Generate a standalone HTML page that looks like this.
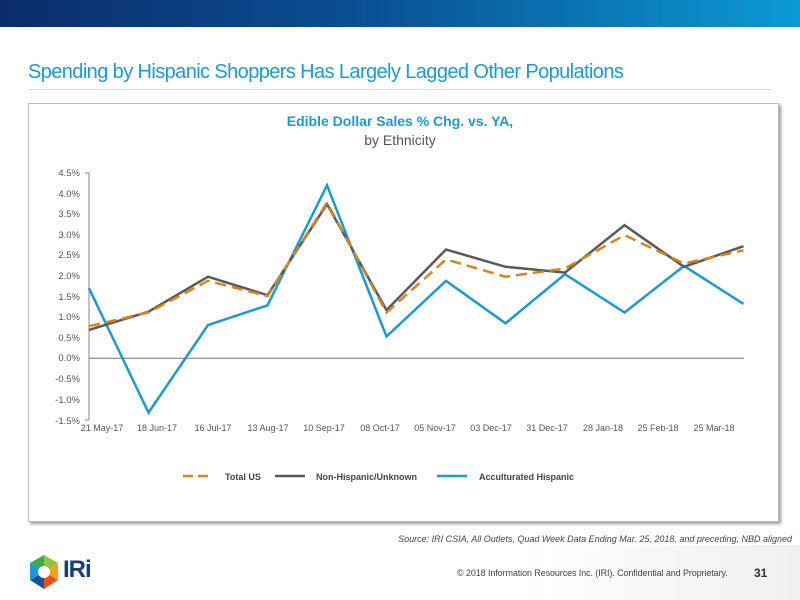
<!DOCTYPE html>
<html><head><meta charset="utf-8"><style>
body{margin:0;width:800px;height:600px;position:relative;background:#fff;font-family:"Liberation Sans",sans-serif;overflow:hidden}
.hdr{position:absolute;left:0;top:0;width:800px;height:27px;background:linear-gradient(90deg,#0b2c6b 0%,#0a4f93 45%,#0a9ad4 100%)}
.title{position:absolute;left:28px;top:61px;font-size:20px;color:#1a9ad6;letter-spacing:-0.6px}
.rule{position:absolute;left:28px;top:89px;width:744px;height:1px;background:#ddd}
.box{position:absolute;left:28px;top:103px;width:749px;height:417px;border:1px solid #bbb;box-shadow:2px 2px 3px #999;background:#fff}
.src{position:absolute;right:8px;top:534px;font-size:9px;font-style:italic;color:#444}
.foot{position:absolute;left:0;top:545px;width:800px;height:55px;background:linear-gradient(90deg,#fff 65%,#f0f0f0 100%)}
.copy{position:absolute;left:457px;top:568px;font-size:9px;color:#444;letter-spacing:-0.1px}
.pg{position:absolute;left:754px;top:566px;font-size:12px;font-weight:bold;color:#333}
.iri{position:absolute;left:63px;top:556px;font-size:24px;font-weight:bold;color:#163f7c;letter-spacing:-1px}
</style></head><body>
<div class="hdr"></div>
<div class="title">Spending by Hispanic Shoppers Has Largely Lagged Other Populations</div>
<div class="rule"></div>
<div class="box"></div>
<svg style="position:absolute;left:0;top:0" width="800" height="600" font-family="Liberation Sans, sans-serif">
<text x="400" y="126" text-anchor="middle" font-size="14" font-weight="bold" fill="#1a9ad6">Edible Dollar Sales % Chg. vs. YA,</text>
<text x="400" y="145" text-anchor="middle" font-size="14" fill="#555">by Ethnicity</text>
<g font-size="9.5" fill="#555" text-anchor="end">
<text x="80" y="176">4.5%</text><text x="80" y="197">4.0%</text><text x="80" y="217">3.5%</text><text x="80" y="238">3.0%</text><text x="80" y="258">2.5%</text><text x="80" y="279">2.0%</text><text x="80" y="300">1.5%</text><text x="80" y="320">1.0%</text><text x="80" y="341">0.5%</text><text x="80" y="361">0.0%</text><text x="80" y="382">-0.5%</text><text x="80" y="403">-1.0%</text><text x="80" y="424">-1.5%</text>
</g>
<line x1="89" y1="173" x2="89" y2="420" stroke="#888"/>
<g stroke="#888"><line x1="85" y1="173" x2="89" y2="173"/><line x1="85" y1="420" x2="89" y2="420"/></g>
<line x1="89" y1="358.3" x2="744" y2="358.3" stroke="#777"/>
<g font-size="9" fill="#555" text-anchor="middle">
<text x="102" y="431">21 May-17</text><text x="157" y="431">18 Jun-17</text><text x="213" y="431">16 Jul-17</text><text x="268" y="431">13 Aug-17</text><text x="324" y="431">10 Sep-17</text><text x="380" y="431">08 Oct-17</text><text x="435" y="431">05 Nov-17</text><text x="491" y="431">03 Dec-17</text><text x="547" y="431">31 Dec-17</text><text x="603" y="431">28 Jan-18</text><text x="658" y="431">25 Feb-18</text><text x="714" y="431">25 Mar-18</text>
</g>
<polyline fill="none" stroke="#1a9ad6" stroke-width="2.5" points="89,288.3 148.5,412.6 208,325.1 267.5,305.3 327,185.3 386.5,336.5 446,280.8 505.5,323.3 565,274.2 624.5,312.5 684,265.9 743.5,303.9"/>
<polyline fill="none" stroke="#595959" stroke-width="2.5" points="89,329.9 148.5,311.7 208,276.7 267.5,295.2 327,204.2 386.5,310.1 446,249.5 505.5,266.8 565,272.6 624.5,225.2 684,266.8 743.5,246.2"/>
<polyline fill="none" stroke="#d9831f" stroke-width="2.5" stroke-dasharray="11,6" points="89,326.2 148.5,312.5 208,280.8 267.5,296.1 327,202.6 386.5,312.5 446,259.4 505.5,276.7 565,268.5 624.5,235.1 684,263.5 743.5,250.3"/>
<line x1="183" y1="476" x2="213" y2="476" stroke="#d9831f" stroke-width="2.5" stroke-dasharray="10,5"/>
<line x1="275" y1="476" x2="305" y2="476" stroke="#595959" stroke-width="2.5"/>
<line x1="437" y1="476" x2="467" y2="476" stroke="#1a9ad6" stroke-width="2.5"/>
<g font-size="9" font-weight="bold" fill="#444">
<text x="225" y="480">Total US</text><text x="316" y="480">Non-Hispanic/Unknown</text><text x="479" y="480">Acculturated Hispanic</text>
</g>
</svg>
<div class="src">Source: IRI CSIA, All Outlets, Quad Week Data Ending Mar. 25, 2018, and preceding, NBD aligned</div>
<div class="foot"></div>
<svg style="position:absolute;left:28px;top:555px" width="32" height="34" viewBox="0 0 32 34">
<polygon points="16,0 30,8 16,17" fill="#8cc63f"/><polygon points="30,8 30,25 16,17" fill="#f4a21c"/><polygon points="30,25 16,34 16,17" fill="#e94e1b"/><polygon points="16,34 2,25 16,17" fill="#1a4f9c"/><polygon points="2,25 2,8 16,17" fill="#1a9ad6"/><polygon points="2,8 16,0 16,17" fill="#3aab49"/><circle cx="16" cy="17" r="6" fill="#fff"/>
</svg>
<div class="iri">IRi</div>
<div class="copy">© 2018 Information Resources Inc. (IRI). Confidential and Proprietary.</div>
<div class="pg">31</div>
</body></html>
